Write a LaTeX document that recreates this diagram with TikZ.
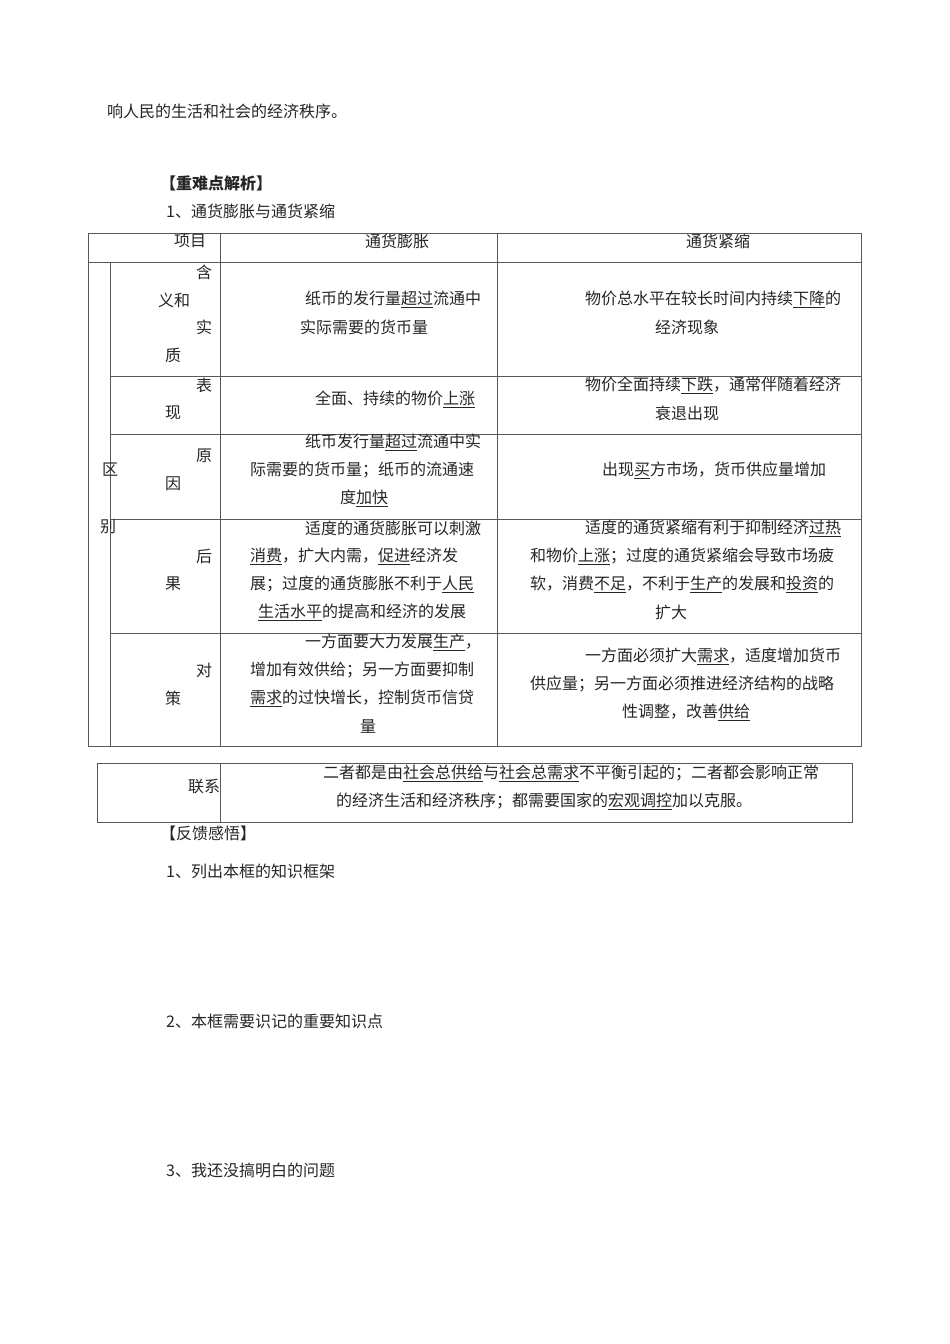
\documentclass[tikz,border=0pt]{standalone}
\usepackage{fontspec}
\newfontfamily\cjk{Noto Sans CJK SC}
\newcommand\ud[1]{\underline{#1}}
\begin{document}
\begin{tikzpicture}[x=1pt,y=-1pt,
  t/.style={anchor=west,inner sep=0pt,font=\cjk\fontsize{16}{18}\selectfont,text=black!85},
  rule/.style={draw=black!65,line width=0.9pt}]
\useasboundingbox[fill=white] (0,0) rectangle (950,1344);
% table 1
\draw[rule] (88,233) rectangle (861,746);
\draw[rule] (88,262) -- (861,262);
\draw[rule] (110,262) -- (110,746);
\draw[rule] (220,233) -- (220,746);
\draw[rule] (497,233) -- (497,746);
\foreach \y in {376,434,519,633} \draw[rule] (110,\y) -- (861,\y);
% table 2
\draw[rule] (97,763) rectangle (852,822);
\draw[rule] (220,763) -- (220,822);
% texts
\node[t] (a1) at (107,111) {响人民的生活和社会的经济秩序。};
\node[t,font=\cjk\bfseries\fontsize{16}{18}\selectfont] (a2) at (160,183) {【重难点解析】};
\node[t] (a3) at (166,211) {1、通货膨胀与通货紧缩};
\node[t] (h1) at (174,241) {项目};
\node[t] (h2) at (365,241) {通货膨胀};
\node[t] (h3) at (686,241) {通货紧缩};
\node[t] (qu) at (102,470) {区};
\node[t] (bie) at (100,527) {别};
% row1
\node[t] (r1a) at (196,272) {含};
\node[t] (r1b) at (158,300) {义和};
\node[t] (r1c) at (196,327) {实};
\node[t] (r1d) at (165,355) {质};
\node[t] (r1e) at (305,299) {纸币的发行量\ud{超过}流通中};
\node[t] (r1f) at (300,327) {实际需要的货币量};
\node[t] (r1g) at (585,299) {物价总水平在较长时间内持续\ud{下降}的};
\node[t] (r1h) at (655,327) {经济现象};
% row2
\node[t] (r2a) at (196,385) {表};
\node[t] (r2b) at (165,413) {现};
\node[t] (r2c) at (315,399) {全面、持续的物价\ud{上涨}};
\node[t] (r2d) at (585,385) {物价全面持续\ud{下跌}，通常伴随着经济};
\node[t] (r2e) at (655,413) {衰退出现};
% row3
\node[t] (r3a) at (196,456) {原};
\node[t] (r3b) at (165,484) {因};
\node[t] (r3c) at (305,442) {纸币发行量\ud{超过}流通中实};
\node[t] (r3d) at (250,470) {际需要的货币量；纸币的流通速};
\node[t] (r3e) at (340,498) {度\ud{加快}};
\node[t] (r3f) at (602,470) {出现\ud{买}方市场，货币供应量增加};
% row4
\node[t] (r4a) at (196,556) {后};
\node[t] (r4b) at (165,584) {果};
\node[t] (r4c) at (305,528) {适度的通货膨胀可以刺激};
\node[t] (r4d) at (250,556) {\ud{消费}，扩大内需，\ud{促进}经济发};
\node[t] (r4e) at (250,584) {展；过度的通货膨胀不利于\ud{人民}};
\node[t] (r4f) at (258,612) {\ud{生活水平}的提高和经济的发展};
\node[t] (r4g) at (585,528) {适度的通货紧缩有利于抑制经济\ud{过热}};
\node[t] (r4h) at (530,556) {和物价\ud{上涨}；过度的通货紧缩会导致市场疲};
\node[t] (r4i) at (530,584) {软，消费\ud{不足}，不利于\ud{生产}的发展和\ud{投资}的};
\node[t] (r4j) at (655,612) {扩大};
% row5
\node[t] (r5a) at (196,670) {对};
\node[t] (r5b) at (165,698) {策};
\node[t] (r5c) at (305,642) {一方面要大力发展\ud{生产}，};
\node[t] (r5d) at (250,670) {增加有效供给；另一方面要抑制};
\node[t] (r5e) at (250,698) {\ud{需求}的过快增长，控制货币信贷};
\node[t] (r5f) at (360,726) {量};
\node[t] (r5g) at (585,656) {一方面必须扩大\ud{需求}，适度增加货币};
\node[t] (r5h) at (530,684) {供应量；另一方面必须推进经济结构的战略};
\node[t] (r5i) at (622,712) {性调整，改善\ud{供给}};
% table 2 text
\node[t] (l1) at (188,787) {联系};
\node[t] (l2) at (323,773) {二者都是由\ud{社会总供给}与\ud{社会总需求}不平衡引起的；二者都会影响正常};
\node[t] (l3) at (336,801) {的经济生活和经济秩序；都需要国家的\ud{宏观调控}加以克服。};
% after
\node[t] (b1) at (160,833) {【反馈感悟】};
\node[t] (b2) at (166,871) {1、列出本框的知识框架};
\node[t] (b3) at (166,1021) {2、本框需要识记的重要知识点};
\node[t] (b4) at (166,1170) {3、我还没搞明白的问题};
\end{tikzpicture}
\end{document}
